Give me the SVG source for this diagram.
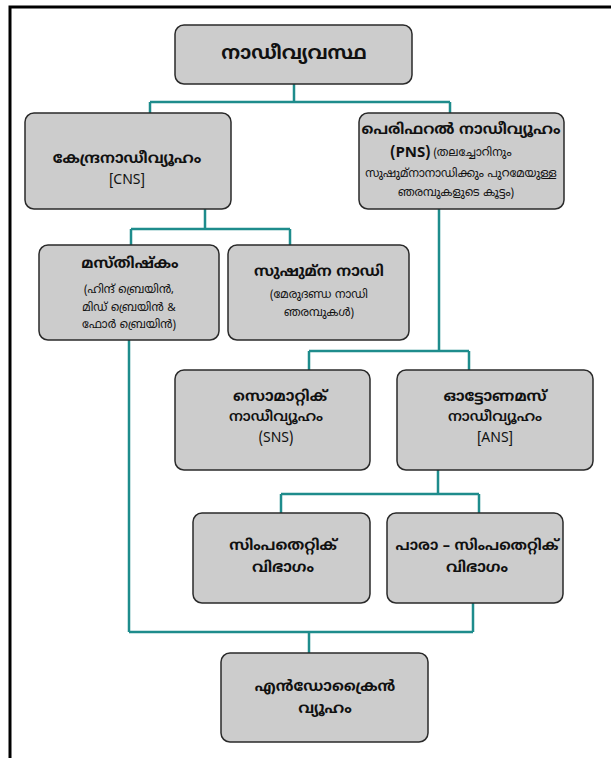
<svg xmlns="http://www.w3.org/2000/svg" width="611" height="758" viewBox="0 0 611 758">
<style>
.box{fill:#cccccc;stroke:#2a2a2a;stroke-width:1.5}
.t{font-family:"Noto Sans Malayalam","Noto Sans","DejaVu Sans",sans-serif;fill:#111;text-anchor:middle;dominant-baseline:central}
.b{font-weight:bold;font-size:15px}
.sb{font-weight:600;font-size:14.5px}
.m{font-size:14px}
.s{font-size:11.5px}
.c{fill:none;stroke:#1e8c8c;stroke-width:2.5}
.frame{fill:none;stroke:#000;stroke-width:3}
</style>
<rect width="611" height="758" fill="#fff"/>
<path class="frame" d="M10 758 V7 H611"/>
<g id="connectors">
<path class="c" d="M294 84 V102 M150 102 H450 M150 102 V113 M450 102 V113"/>
<path class="c" d="M205 209 V229 M131 229 H290 M131 229 V245 M290 229 V245"/>
<path class="c" d="M439 209 V351 M309 351 H469 M309 351 V370 M469 351 V370"/>
<path class="c" d="M438 470 V494 M281 494 H479 M281 494 V513 M479 494 V513"/>
<path class="c" d="M129 340 V632 M473 603 V632 M129 632 H473 M309 632 V653"/>
</g>
<g id="n-root"><rect class="box" x="175" y="25" width="237" height="59" rx="9"/>
<text class="t b" x="294" y="54" style="font-size:19px">നാഡീവ്യവസ്ഥ</text></g>
<g id="n-cns"><rect class="box" x="25" y="113" width="206" height="96" rx="9"/>
<text class="t b" x="127" y="159">കേന്ദ്രനാഡീവ്യൂഹം</text>
<text class="t m" x="127" y="180">[CNS]</text></g>
<g id="n-pns"><rect class="box" x="359" y="113" width="205" height="96" rx="9"/>
<text class="t b" x="461" y="130">പെരിഫറൽ നാഡീവ്യൂഹം</text>
<text class="t" x="451" y="153"><tspan class="b">(PNS)</tspan><tspan class="s" dx="3">(തലച്ചോറിനും</tspan></text>
<text class="t s" x="461" y="174">സുഷുമ്നാനാഡിക്കും പുറമേയുള്ള</text>
<text class="t s" x="456" y="193">ഞരമ്പുകളുടെ കൂട്ടം)</text></g>
<g id="n-brain"><rect class="box" x="39" y="245" width="180" height="95" rx="9"/>
<text class="t b" x="130" y="264">മസ്തിഷ്കം</text>
<text class="t s" x="129" y="290">(ഹിന്ദ് ബ്രെയിൻ,</text>
<text class="t s" x="129" y="308">മിഡ് ബ്രെയിൻ &amp;</text>
<text class="t s" x="129" y="325">ഫോർ ബ്രെയിൻ)</text></g>
<g id="n-spinal"><rect class="box" x="228" y="245" width="181" height="95" rx="9"/>
<text class="t b" x="319" y="272">സുഷുമ്ന നാഡി</text>
<text class="t s" x="319" y="295">(മേരുദണ്ഡ നാഡി</text>
<text class="t s" x="319" y="313">ഞരമ്പുകൾ)</text></g>
<g id="n-sns"><rect class="box" x="175" y="370" width="195" height="100" rx="9"/>
<text class="t b" x="280" y="397">സൊമാറ്റിക്</text>
<text class="t sb" x="276" y="417">നാഡീവ്യൂഹം</text>
<text class="t m" x="276" y="438">(SNS)</text></g>
<g id="n-ans"><rect class="box" x="397" y="370" width="196" height="100" rx="9"/>
<text class="t b" x="495" y="397">ഓട്ടോണമസ്</text>
<text class="t sb" x="495" y="417">നാഡീവ്യൂഹം</text>
<text class="t m" x="495" y="438">[ANS]</text></g>
<g id="n-symp"><rect class="box" x="193" y="513" width="177" height="90" rx="9"/>
<text class="t b" x="283" y="546">സിംപതെറ്റിക്</text>
<text class="t b" x="283" y="568">വിഭാഗം</text></g>
<g id="n-para"><rect class="box" x="387" y="513" width="176" height="90" rx="9"/>
<text class="t b" x="477" y="546" style="font-size:14.5px">പാരാ – സിംപതെറ്റിക്</text>
<text class="t b" x="477" y="568">വിഭാഗം</text></g>
<g id="n-endo"><rect class="box" x="221" y="653" width="207" height="89" rx="9"/>
<text class="t b" x="325" y="687">എൻഡോക്രൈൻ</text>
<text class="t b" x="325" y="709">വ്യൂഹം</text></g>
</svg>
